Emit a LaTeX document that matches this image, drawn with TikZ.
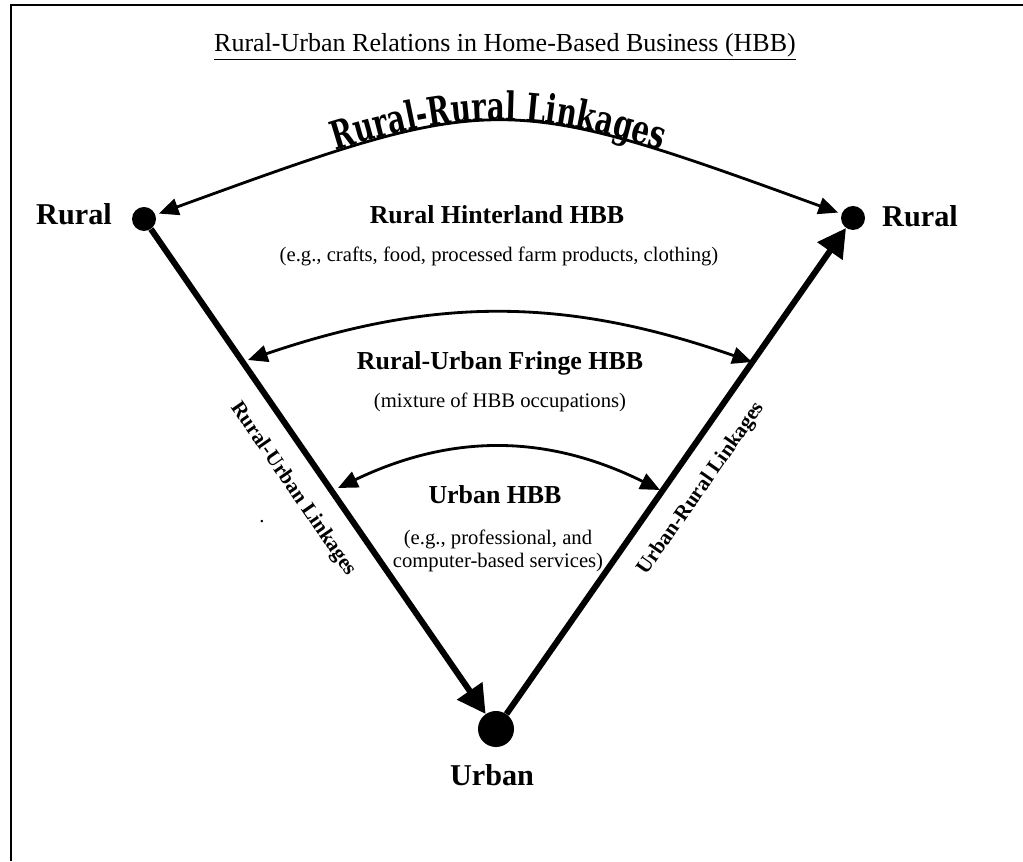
\documentclass[tikz,border=0pt]{standalone}
\usepackage{fontspec}
\setmainfont{Liberation Serif}
\newfontfamily\arcfont{DejaVu Serif}[FakeStretch=0.7]
\newcommand\arclabelfont{\arcfont\bfseries\fontsize{28}{28}\selectfont}
\usetikzlibrary{arrows.meta, decorations.text}

\begin{document}
\begin{tikzpicture}[x=0.025cm, y=0.025cm,
	citydot/.style={circle, fill, inner sep=0pt, minimum size=#1},
	placename/.style={font=\bfseries\fontsize{21.5}{24}\selectfont, inner sep=0pt, anchor=base},
	zonehead/.style={font=\bfseries\fontsize{18.4}{22}\selectfont, inner sep=0pt, anchor=base},
	zonenote/.style={font=\fontsize{14.7}{16.4}\selectfont, inner sep=0pt, align=center},
	mainlink/.style={line width=4.3pt, -{Triangle[length=20pt, width=21pt]}},
	ringlink/.style={line width=2pt, {Triangle[length=14pt, width=12pt]}-{Triangle[length=14pt, width=12pt]}},
	sidelabel/.style={sloped, below, inner xsep=0pt, inner ysep=13pt, font=\bfseries\fontsize{15}{18}\selectfont}]
	\useasboundingbox (0,0) rectangle (1023,861);
	\draw[line width=2pt] (11,0) -- (11,856) -- (1023,856);

	\node[anchor=base] (title) at (505,809) {\fontsize{18.5}{22}\selectfont\underline{Rural-Urban Relations in Home-Based Business (HBB)}};

	\node[citydot=0.6cm] (ruralW) at (144,642) {};
	\node[citydot=0.6cm] (ruralE) at (853,643) {};
	\node[citydot=0.9cm] (urban) at (496,132) {};
	\node[placename] (ruralWname) at (74,636) {Rural};
	\node[placename] (ruralEname) at (920,634) {Rural};
	\node[placename] (urbanname) at (492,76) {Urban};

	\node[zonehead] (hinter) at (497,637) {Rural Hinterland HBB};
	\node[zonenote, anchor=base] (hinternote) at (499,599) {(e.g., crafts, food, processed farm products, clothing)};
	\node[zonehead] (fringe) at (500,491) {Rural-Urban Fringe HBB};
	\node[zonenote, anchor=base] (fringenote) at (500,453) {(mixture of HBB occupations)};
	\node[zonehead] (town) at (495,357) {Urban HBB};
	\node[zonenote] (townnote) at (498,310) {(e.g., professional, and\\computer-based services)};
	\node[zonenote] (speck) at (262,339) {.};

	\draw[mainlink] (ruralW) -- node[sidelabel] {Rural-Urban Linkages} (urban);
	\draw[mainlink] (urban) -- node[sidelabel] {Urban-Rural Linkages} (ruralE);

	\draw[ringlink, shorten <=2.5pt, shorten >=2.5pt] (ruralW) to[out=20, in=160, looseness=1.35] (ruralE);
	\path[decorate, decoration={text along path, text align=center, raise=1pt, text={|\arclabelfont|Rural-Rural Linkages}}] (ruralW) to[out=20, in=160, looseness=1.35] (ruralE);

	\coordinate (fringeL) at (248,501);
	\coordinate (fringeR) at (752,499);
	\draw[ringlink] (fringeL) to[bend left=19] (fringeR);
	\coordinate (townL) at (338,373);
	\coordinate (townR) at (660,371);
	\draw[ringlink] (townL) to[bend left=26] (townR);
\end{tikzpicture}
\end{document}
